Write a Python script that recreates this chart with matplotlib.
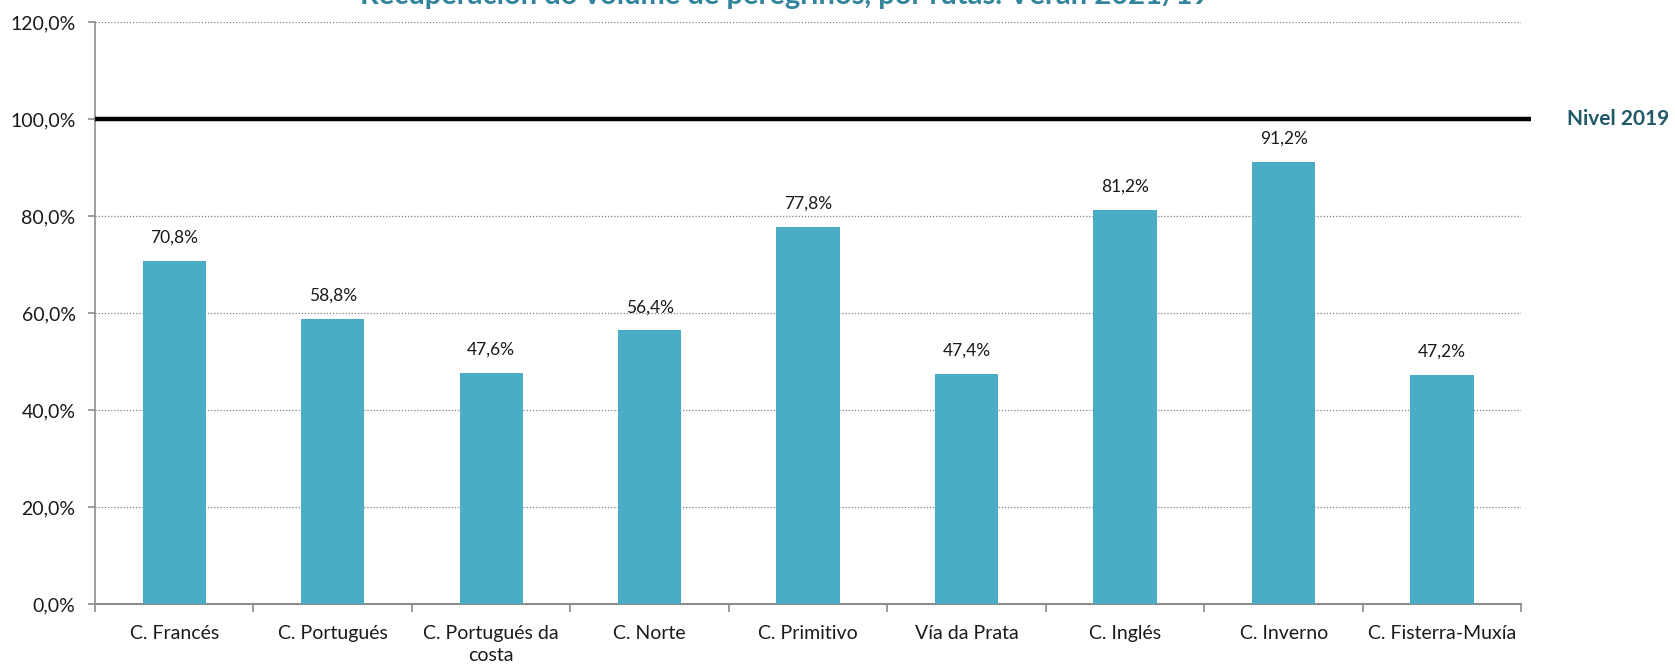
import numpy as np
import matplotlib.pyplot as plt
from matplotlib.ticker import FuncFormatter

plt.rcParams['font.family'] = ['Lato', 'DejaVu Sans']

rutas = ['C. Francés', 'C. Portugués', 'C. Portugués da\ncosta', 'C. Norte',
         'C. Primitivo', 'Vía da Prata', 'C. Inglés', 'C. Inverno',
         'C. Fisterra-Muxía']
recuperacion = [70.8, 58.8, 47.6, 56.4, 77.8, 47.4, 81.2, 91.2, 47.2]
nivel_2019 = 100.0
titulo = 'Recuperación do volume de peregrinos, por rutas. Verán 2021/19'

fig = plt.figure(figsize=(16.75, 6.66), dpi=100)
ax = fig.add_axes([0.0567, 0.0931, 0.8516, 0.8739])

x = np.arange(len(rutas))
ax.bar(x, recuperacion, width=0.40, color='#4BACC6', zorder=3)

for xi, v in zip(x, recuperacion):
    ax.annotate(f'{v:.1f}%'.replace('.', ','), (xi, v), xytext=(0, 11),
                textcoords='offset points', ha='center', va='bottom',
                fontsize=12.5, color='#1a1a1a')

# linea de referencia 2019
ax.plot([-0.5, 8.56], [nivel_2019, nivel_2019], color='black', lw=3.2,
        zorder=4, clip_on=False, solid_capstyle='butt')
ax.text(8.79, nivel_2019, 'Nivel 2019', ha='left', va='center', fontsize=15,
        fontweight='bold', color='#215967', clip_on=False)

ax.set_xlim(-0.5, 8.5)
ax.set_ylim(0, 120)
ax.set_yticks(np.arange(0, 121, 20))
ax.yaxis.set_major_formatter(FuncFormatter(lambda v, p: f'{v:.1f}%'.replace('.', ',')))
ax.yaxis.grid(True, linestyle=(0, (1, 1.5)), color='#808080', lw=0.9, zorder=0)

ax.set_xticks(x)
ax.set_xticklabels(rutas, fontsize=14, color='#1a1a1a', linespacing=1.35)
ax.set_xticks(np.arange(-0.5, 9, 1), minor=True)
ax.tick_params(axis='x', which='major', length=0, pad=15)
ax.tick_params(axis='x', which='minor', length=6, color='#8c8c8c', width=1.2)
ax.tick_params(axis='y', length=5, color='#8c8c8c', width=1.2, pad=9,
               labelsize=14, labelcolor='#1a1a1a')

for s in ['top', 'right']:
    ax.spines[s].set_visible(False)
ax.spines['left'].set_color('#8c8c8c')
ax.spines['left'].set_linewidth(1.2)
ax.spines['bottom'].set_color('#8c8c8c')
ax.spines['bottom'].set_linewidth(1.5)

fig.text(0.4688, 0.994, titulo, ha='center', va='baseline', fontsize=21,
         fontweight='bold', color='#31849B')

fig.savefig('out.png', dpi=100)
